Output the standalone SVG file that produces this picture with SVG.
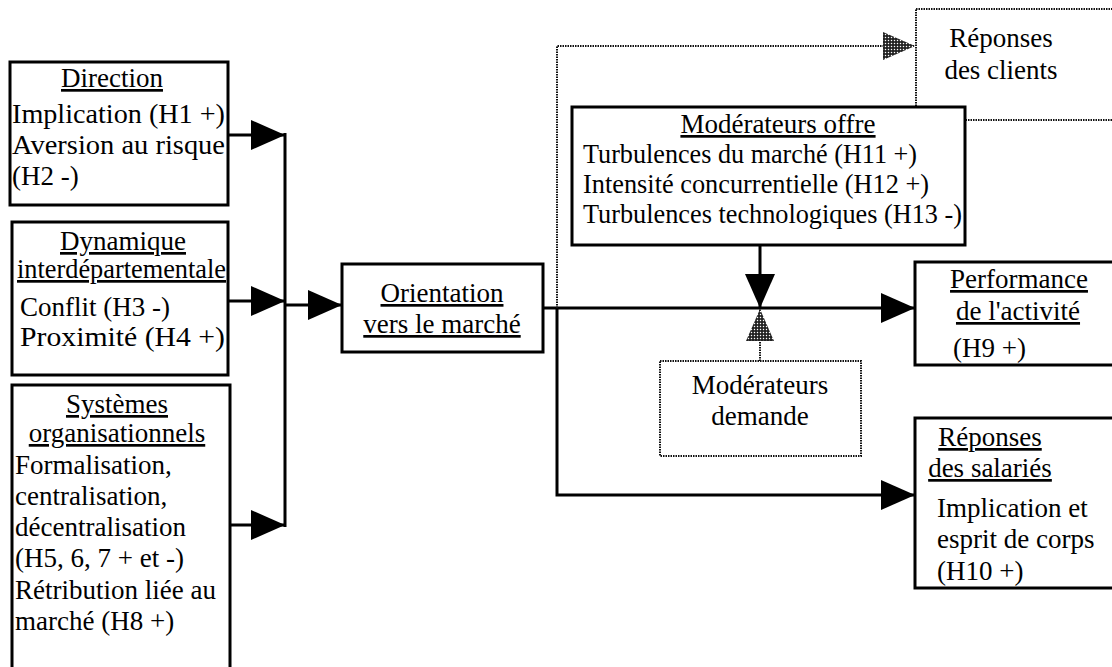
<svg xmlns="http://www.w3.org/2000/svg" width="1112" height="667" viewBox="0 0 1112 667">
<style>
text{font-family:"Liberation Serif","Times New Roman",serif;font-size:27px;fill:#000}
.u{text-decoration:underline}
.m{text-anchor:middle}
.box{fill:#fff;stroke:#000;stroke-width:3}
.dbox{fill:#fff;stroke:#111;stroke-width:2;stroke-dasharray:1.5 1}
.ln{fill:none;stroke:#000;stroke-width:3}
.dl{fill:none;stroke:#111;stroke-width:2;stroke-dasharray:1.5 1}
</style>
<defs>
<pattern id="stip" width="3" height="3" patternUnits="userSpaceOnUse">
<rect width="3" height="3" fill="#222"/>
<circle cx="1.5" cy="1.5" r="0.75" fill="#fff"/>
</pattern>
<marker id="ah" markerUnits="userSpaceOnUse" markerWidth="36" markerHeight="32" refX="34" refY="16" orient="auto">
<path d="M0,1 L34,16 L0,31 Z" fill="#000"/>
</marker>
<marker id="ahd" markerUnits="userSpaceOnUse" markerWidth="36" markerHeight="32" refX="34" refY="16" orient="auto">
<path d="M2,2 L34,16 L2,30 Z" fill="url(#stip)"/>
</marker>
</defs>
<rect width="1112" height="667" fill="#fff"/>

<g id="connectors">
<path class="ln" d="M228,135 H285" marker-end="url(#ah)"/>
<path class="ln" d="M228,301 H285" marker-end="url(#ah)"/>
<path class="ln" d="M230,525 H285" marker-end="url(#ah)"/>
<path class="ln" d="M285,133 V527"/>
<path class="ln" d="M285,305 H342" marker-end="url(#ah)"/>
<path class="ln" d="M543,308 H915" marker-end="url(#ah)"/>
<path class="ln" d="M557,308 V495 H915" marker-end="url(#ah)"/>
<path class="dl" d="M557,308 V46 H915" marker-end="url(#ahd)"/>
<path class="ln" d="M760,245 V308" marker-end="url(#ah)"/>
<path class="dl" d="M760,361 V309" marker-end="url(#ahd)"/>
</g>

<g id="direction">
<rect class="box" x="10" y="62" width="218" height="143"/>
<text class="u m" x="112" y="87">Direction</text>
<text x="12" y="123" textLength="213" lengthAdjust="spacingAndGlyphs">Implication (H1 +)</text>
<text x="12" y="154" textLength="213" lengthAdjust="spacingAndGlyphs">Aversion au risque</text>
<text x="12" y="185">(H2 -)</text>
</g>

<g id="dynamique">
<rect class="box" x="12" y="222" width="216" height="153"/>
<text class="u m" x="123" y="250">Dynamique</text>
<text class="u" x="17" y="278" textLength="209" lengthAdjust="spacingAndGlyphs">interdépartementale</text>
<text x="20" y="316">Conflit (H3 -)</text>
<text x="20" y="346" textLength="205" lengthAdjust="spacingAndGlyphs">Proximité (H4 +)</text>
</g>

<g id="systemes">
<rect class="box" x="12" y="385" width="218" height="300"/>
<text class="u m" x="117" y="413">Systèmes</text>
<text class="u m" x="117" y="442">organisationnels</text>
<text x="15" y="474">Formalisation,</text>
<text x="15" y="505">centralisation,</text>
<text x="15" y="536">décentralisation</text>
<text x="15" y="567">(H5, 6, 7 + et -)</text>
<text x="15" y="599">Rétribution liée au</text>
<text x="15" y="630">marché (H8 +)</text>
</g>

<g id="orientation">
<rect class="box" x="342" y="264" width="201" height="88"/>
<text class="u m" x="442" y="302">Orientation</text>
<text class="u m" x="442" y="333">vers le marché</text>
</g>

<g id="clients">
<rect class="dbox" x="916" y="9" width="200" height="111"/>
<text class="m" x="1001" y="47">Réponses</text>
<text class="m" x="1001" y="79">des clients</text>
</g>

<g id="offre">
<rect class="box" x="572" y="107" width="393" height="138"/>
<text class="u m" x="778" y="133">Modérateurs offre</text>
<text x="583" y="163" textLength="334" lengthAdjust="spacingAndGlyphs">Turbulences du marché (H11 +)</text>
<text x="583" y="193" textLength="346" lengthAdjust="spacingAndGlyphs">Intensité concurrentielle (H12 +)</text>
<text x="583" y="223" textLength="379" lengthAdjust="spacingAndGlyphs">Turbulences technologiques (H13 -)</text>
</g>

<g id="demande">
<rect class="dbox" x="660" y="361" width="201" height="95"/>
<text class="m" x="760" y="394">Modérateurs</text>
<text class="m" x="760" y="425">demande</text>
</g>

<g id="performance">
<rect class="box" x="915" y="262" width="200" height="103"/>
<text class="u m" x="1019" y="288">Performance</text>
<text class="u m" x="1018" y="320">de l'activité</text>
<text x="953" y="357">(H9 +)</text>
</g>

<g id="salaries">
<rect class="box" x="915" y="418" width="200" height="170"/>
<text class="u m" x="990" y="446">Réponses</text>
<text class="u m" x="990" y="477">des salariés</text>
<text x="937" y="517">Implication et</text>
<text x="937" y="548">esprit de corps</text>
<text x="937" y="580">(H10 +)</text>
</g>
</svg>
